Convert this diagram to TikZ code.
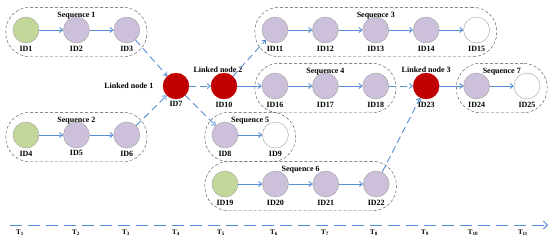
\documentclass[tikz,border=0pt]{standalone}
\usepackage{fontspec}
\setmainfont{Liberation Serif}
\usetikzlibrary{positioning, fit, backgrounds, arrows.meta}
\definecolor{linkblue}{RGB}{85, 142, 213}
\definecolor{startgreen}{RGB}{196, 215, 155}
\definecolor{midpurple}{RGB}{204, 192, 218}
\definecolor{linkred}{RGB}{192, 0, 0}
\definecolor{rimgray}{RGB}{160, 160, 160}
\tikzset{
  idnode/.style={circle, draw=rimgray, minimum size=26pt, inner sep=0pt,
                 label={[font=\footnotesize\bfseries, label distance=-1pt]below:#1}},
  seqbox/.style={draw=black!70, dash pattern=on 3pt off 2pt, rounded corners=24pt,
                 inner xsep=7pt, inner ysep=11.5pt, yshift=-2pt},
  seqlabel/.style={font=\footnotesize\bfseries, anchor=north, inner sep=1pt, yshift=-4pt},
  linklabel/.style={font=\footnotesize\bfseries},
  flow/.style={draw=linkblue, line width=0.9pt, -{Straight Barb[length=3pt, width=5pt]}},
  jump/.style={flow, dash pattern=on 7pt off 4pt},
}

\begin{document}
\begin{tikzpicture}[x=1pt, y=-1pt, node distance=24pt]
  \useasboundingbox (0,0) rectangle (550,242);

  % sequences 1 and 2
  \node[idnode=ID1, fill=startgreen] (id1) at (26,30) {};
  \node[idnode=ID2, fill=midpurple, right=of id1] (id2) {};
  \node[idnode=ID3, fill=midpurple, right=of id2] (id3) {};
  \node[idnode=ID4, fill=startgreen] (id4) at (26,135) {};
  \node[idnode=ID5, fill=midpurple, right=of id4] (id5) {};
  \node[idnode=ID6, fill=midpurple, right=of id5] (id6) {};

  % linked nodes
  \node[idnode=ID7, fill=linkred, draw=linkred,
        label={[linklabel, label distance=6pt]left:Linked node 1}] (id7) at (176,86) {};
  \node[idnode=ID10, fill=linkred, draw=linkred,
        label={[linklabel, label distance=-3pt, xshift=-6pt]above:Linked node 2}] (id10) at (224,86) {};

  % sequences 3 and 4
  \node[idnode=ID11, fill=midpurple] (id11) at (275,30) {};
  \node[idnode=ID12, fill=midpurple, right=of id11] (id12) {};
  \node[idnode=ID13, fill=midpurple, right=of id12] (id13) {};
  \node[idnode=ID14, fill=midpurple, right=of id13] (id14) {};
  \node[idnode=ID15, fill=white, right=of id14] (id15) {};
  \node[idnode=ID16, fill=midpurple] (id16) at (275,86) {};
  \node[idnode=ID17, fill=midpurple, right=of id16] (id17) {};
  \node[idnode=ID18, fill=midpurple, right=of id17] (id18) {};
  \node[idnode=ID23, fill=linkred, draw=linkred, right=of id18,
        label={[linklabel, label distance=-3pt]above:Linked node 3}] (id23) {};
  \node[idnode=ID24, fill=midpurple, right=of id23] (id24) {};
  \node[idnode=ID25, fill=white, right=of id24] (id25) {};

  % sequences 5 and 6
  \node[idnode=ID8, fill=midpurple] (id8) at (225,135) {};
  \node[idnode=ID9, fill=white, right=of id8] (id9) {};
  \node[idnode=ID19, fill=startgreen] (id19) at (225,184) {};
  \node[idnode=ID20, fill=midpurple, right=of id19] (id20) {};
  \node[idnode=ID21, fill=midpurple, right=of id20] (id21) {};
  \node[idnode=ID22, fill=midpurple, right=of id21] (id22) {};

  \begin{scope}[on background layer]
    \node[seqbox, fit=(id1)(id3)] (seq1) {};
    \node[seqbox, fit=(id4)(id6)] (seq2) {};
    \node[seqbox, fit=(id11)(id15)] (seq3) {};
    \node[seqbox, fit=(id16)(id18)] (seq4) {};
    \node[seqbox, fit=(id8)(id9)] (seq5) {};
    \node[seqbox, fit=(id19)(id22)] (seq6) {};
    \node[seqbox, fit=(id24)(id25)] (seq7) {};
  \end{scope}
  \foreach \s in {1,...,7}
    \node[seqlabel] (seq\s-name) at (seq\s.north) {Sequence \s};

  \draw[flow] (id1) -- (id2);
  \draw[flow] (id2) -- (id3);
  \draw[flow] (id4) -- (id5);
  \draw[flow] (id5) -- (id6);
  \draw[flow] (id8) -- (id9);
  \draw[flow] (id10) -- (id16);
  \draw[flow] (id23) -- (id24);
  \draw[flow] (id24) -- (id25);
  \foreach \a/\b in {11/12, 12/13, 13/14, 14/15, 16/17, 17/18, 19/20, 20/21, 21/22}
    \draw[flow] (id\a) -- (id\b);

  \draw[jump] (id3) -- (id7);
  \draw[jump] (id6) -- (id7);
  \draw[jump] (id7) -- (id10);
  \draw[jump] (id7) -- (id8);
  \draw[jump] (id10) -- (id11);
  \draw[jump] (id18) -- (id23);
  \draw[jump] (id22) -- (id23);

  % time axis
  \coordinate (axstart) at (10,225);
  \coordinate (axend) at (548,225);
  \draw[draw=linkblue, line width=0.9pt, dash pattern=on 12pt off 6pt,
        -{Straight Barb[length=4pt, width=8pt]}] (axstart) -- (axend);
  \foreach \x [count=\i] in {20,76,126,176,221,274,325,374,425,473,523}
    \node[font=\scriptsize\bfseries, inner sep=1pt] (t\i) at (\x,233) {T\textsubscript{\i}};
\end{tikzpicture}
\end{document}
